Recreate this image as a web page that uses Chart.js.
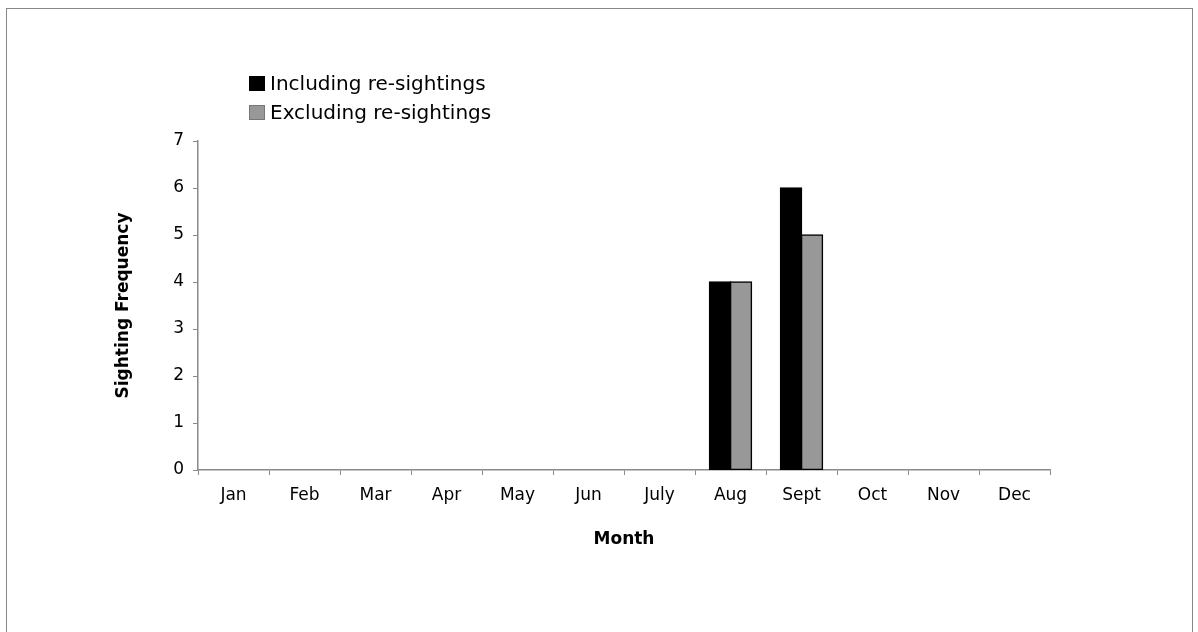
<!DOCTYPE html>
<html>
<head>
<meta charset="utf-8">
<script src="https://cdn.jsdelivr.net/npm/chart.js@4/dist/chart.umd.min.js"></script>
<style>
  html, body { margin: 0; padding: 0; background: #fff; }
  #wrap { position: relative; width: 1198px; height: 632px; overflow: hidden; }
  #frame { position: absolute; left: 6px; top: 8px; width: 1187px; height: 640px;
           border: 1.5px solid #888; box-sizing: border-box; }
  #c { position: absolute; left: 0; top: 0; }
  #legend { position: absolute; left: 249px; top: 69px; font-family: "DejaVu Sans", Verdana, sans-serif;
            font-size: 20px; color: #000; line-height: 29px; }
  .item { display: flex; align-items: center; white-space: nowrap; }
  .sw { width: 16px; height: 15px; margin-right: 5px; box-sizing: border-box; }
</style>
</head>
<body>
<div id="wrap">
  <div id="frame"></div>
  <canvas id="c" width="1198" height="632"></canvas>
  <div id="legend"></div>
</div>
<script>
const months = ["Jan","Feb","Mar","Apr","May","Jun","July","Aug","Sept","Oct","Nov","Dec"];
const includingResightings = [0,0,0,0,0,0,0,4,6,0,0,0];
const excludingResightings = [0,0,0,0,0,0,0,4,5,0,0,0];
const yTicks = [0,1,2,3,4,5,6,7];
const seriesLabels = ["Including re-sightings","Excluding re-sightings"];

const FONT = '"DejaVu Sans", Verdana, sans-serif';
const axisColor = '#8a8a8a';

const chart = new Chart(document.getElementById('c'), {
  type: 'bar',
  data: {
    labels: months,
    datasets: [
      { label: seriesLabels[0], data: includingResightings, backgroundColor: '#000000',
        borderColor: '#000000', borderWidth: 1.5, legendBorder: '#000000' },
      { label: seriesLabels[1], data: excludingResightings, backgroundColor: '#989898',
        borderColor: '#000000', borderWidth: 1.5, legendBorder: '#777777' }
    ]
  },
  options: {
    responsive: false,
    animation: false,
    devicePixelRatio: 1,
    layout: { padding: { left: 105, top: 141, right: 148, bottom: 72 } },
    datasets: { bar: { barPercentage: 1, categoryPercentage: 0.59, borderSkipped: false, inflateAmount: 0.8 } },
    plugins: { legend: { display: false }, tooltip: { enabled: false } },
    scales: {
      x: {
        grid: { display: true, drawOnChartArea: false, drawTicks: true, tickLength: 5, color: axisColor, offset: true },
        border: { display: true, color: axisColor, width: 1.5 },
        ticks: { color: '#000', font: { family: FONT, size: 17 }, padding: 10, maxRotation: 0, autoSkip: false },
        title: { display: true, text: 'Month', color: '#000', font: { family: FONT, size: 17, weight: 'bold' },
                 padding: { top: 0, bottom: 10 } },
        afterFit: (s) => { s.height = 90; }
      },
      y: {
        min: 0, max: 7,
        afterBuildTicks: (s) => { s.ticks = yTicks.map(v => ({ value: v })); },
        grid: { display: true, drawOnChartArea: false, drawTicks: true, tickLength: 5, color: axisColor },
        border: { display: true, color: axisColor, width: 1.5 },
        ticks: { color: '#000', font: { family: FONT, size: 17 }, padding: 9 },
        title: { display: true, text: 'Sighting Frequency', color: '#000', font: { family: FONT, size: 17, weight: 'bold' },
                 padding: { top: 8, bottom: 0 } },
        afterFit: (s) => { s.width = 93; }
      }
    }
  }
});

// Legend built from the chart's datasets
const lg = document.getElementById('legend');
chart.data.datasets.forEach(ds => {
  const row = document.createElement('div');
  row.className = 'item';
  const sw = document.createElement('span');
  sw.className = 'sw';
  sw.style.background = ds.backgroundColor;
  sw.style.border = '1px solid ' + ds.legendBorder;
  const t = document.createElement('span');
  t.textContent = ds.label;
  row.appendChild(sw); row.appendChild(t);
  lg.appendChild(row);
});
</script>
</body>
</html>
